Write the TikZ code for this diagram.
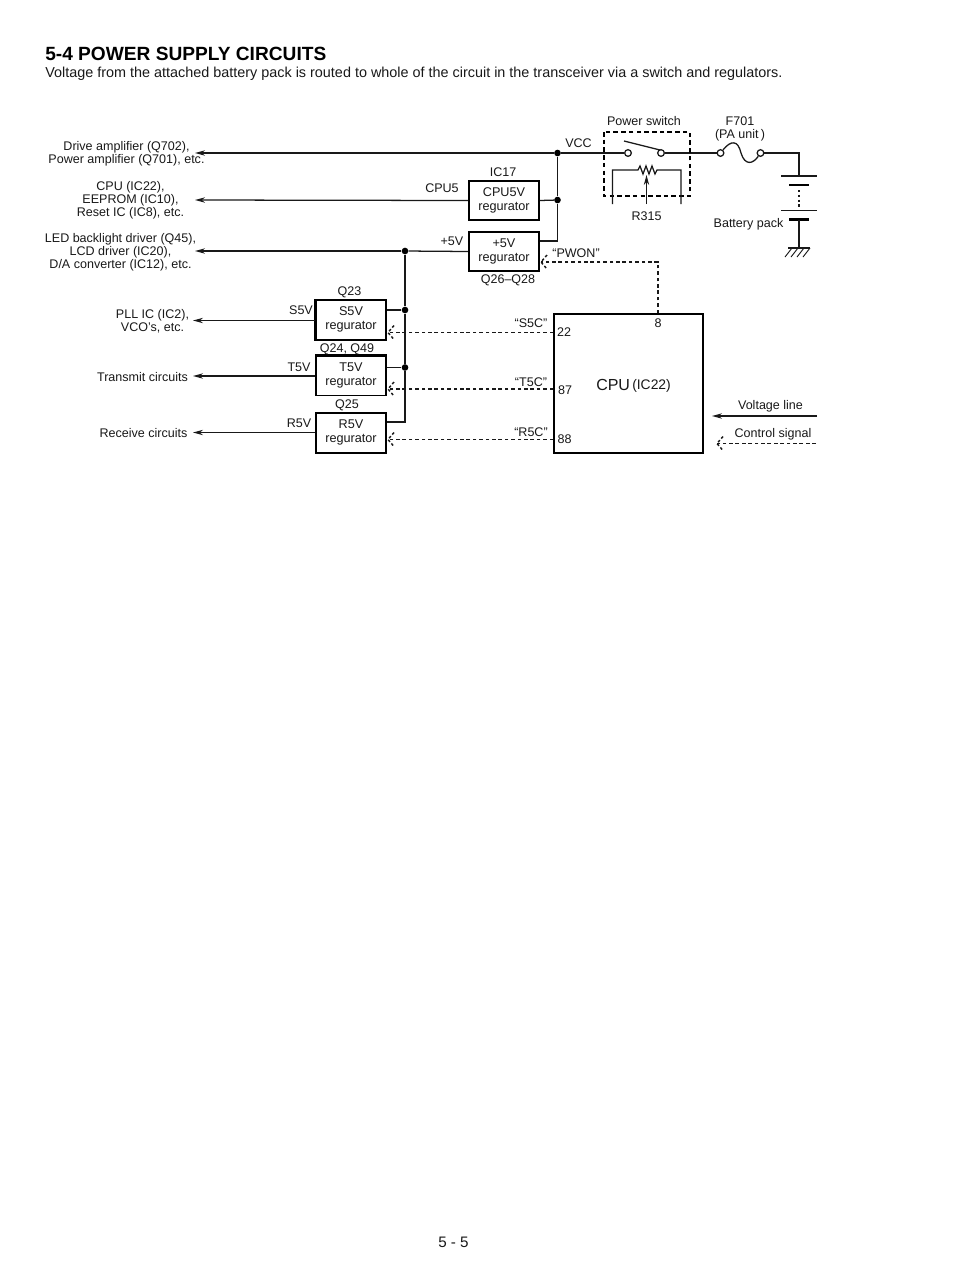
\documentclass[tikz,border=0pt]{standalone}
\usepackage{fontspec}
\setmainfont{Liberation Sans}
\usetikzlibrary{arrows.meta,calc}
\tikzset{
  wire/.style={line width=0.95pt,draw=black!90},
  feed/.style={wire,-{Stealth[length=7.5pt,width=4pt]}},
  ctl/.style={line width=1.2pt,draw=black!90,dash pattern=on 2.8pt off 2pt},
  lbl/.style={font=\fontsize{9.4}{9.7}\selectfont,align=center,inner sep=0pt,text=black!90},
  reg/.style={draw=black,line width=1pt,minimum width=52.5pt,minimum height=29.5pt,inner sep=0pt,
    font=\fontsize{9.5}{11}\selectfont,align=center,text=black!90},
  jdot/.style={circle,fill=black,inner sep=0pt,minimum size=5pt},
  term/.style={circle,draw=black!90,line width=0.95pt,fill=white,inner sep=0pt,minimum size=5pt},
  plate/.style={line width=0.95pt,draw=black!90},
  tplate/.style={line width=2.2pt,draw=black}
}
\newcommand{\chev}[1]{%
  \draw[line width=1.1pt,draw=black!90,dash pattern=on 2pt off 1.6pt] ($(#1)+(6,-7)$) -- (#1) -- ($(#1)+(6,7)$);}
\begin{document}
\begin{tikzpicture}[x=0.75pt,y=-0.75pt]
\useasboundingbox (0,0) rectangle (954,1272);
\fill[white] (0,0) rectangle (954,1272);
% heading
\node[anchor=base west,inner sep=0pt,font=\fontsize{14.35}{16}\selectfont\bfseries] (title) at (45,60) {5-4 POWER SUPPLY CIRCUITS};
\node[anchor=base west,inner sep=0pt,font=\fontsize{10.8}{12}\selectfont,text=black!90] (intro) at (45,77.5) {Voltage from the attached battery pack is routed to whole of the circuit in the transceiver via a switch and regulators.};
\node[lbl,font=\fontsize{11.4}{12}\selectfont] (page) at (453.5,1242.5) {5 - 5};
% regulators
\node[reg,line width=1.3pt] (rcpu) at (504,200.5) {CPU5V\\regurator};
\node[reg,line width=1.6pt] (r5v) at (504,251.5) {+5V\\regurator};
\node[reg] (rs) at (351,319.5) {S5V\\regurator};
\node[reg] (rt) at (351,375.5) {T5V\\regurator};
\node[reg] (rr) at (351,432.5) {R5V\\regurator};
\draw[line width=1.5pt] (rs.north west) -- (rs.south west) -- (rs.south east);
\draw[line width=1.5pt] (rt.north west) -- (rt.north east);
\draw[line width=1.5pt] (rr.south west) -- (rr.south east);
% CPU
\node[draw=black,line width=1.1pt,minimum width=111.75pt,minimum height=104.25pt,inner sep=0pt] (cpu) at (628.5,383.5) {};
\node[anchor=base west,inner sep=0pt,font=\fontsize{12}{12}\selectfont,text=black!90] (cpul) at (596,390) {CPU};
\node[lbl,anchor=base west,font=\fontsize{10.4}{12}\selectfont] (ic22) at (632,389) {(IC22)};
\node[lbl] (p8) at (658,323.5) {8};
\node[lbl] (p22) at (564,332.5) {22};
\node[lbl] (p87) at (565,390) {87};
\node[lbl] (p88) at (564.5,439) {88};
% coordinates of free ends and junctions
\coordinate (loadA) at (195,153);
\coordinate (loadB) at (195,200);
\coordinate (loadC) at (195,251);
\coordinate (loadD) at (193,320.5);
\coordinate (loadE) at (193,376);
\coordinate (loadF) at (193,432.5);
\node[jdot] (jv) at (557.5,153) {};
\node[jdot] (jc) at (557.5,200) {};
\node[jdot] (j5) at (405,251) {};
\node[jdot] (js) at (405,310) {};
\node[jdot] (jt) at (405,367.5) {};
\coordinate (jr) at (405,422);
\coordinate (r5in) at (557.5,241);
% switch and fuse
\node[term] (sa) at (628,153) {};
\node[term] (sb) at (661,153) {};
\node[term] (fa) at (720.5,153) {};
\node[term] (fb) at (760.5,153) {};
\coordinate (armend) at (624,141);
\coordinate (armtip) at (660,150);
% battery
\coordinate (bcorner) at (799,153);
\coordinate (bt1) at (799,176);
\coordinate (bb2) at (799,248);
% main wires
\draw[feed] (jv) -- (loadA);
\draw[wire] (sa) -- (jv);
\draw[wire] (sb) -- (fa);
\draw[wire] (armend) -- (armtip);
\draw[wire] (fa) .. controls (731,140) and (738,140) .. (741,153) .. controls (745,166) and (753,164) .. (fb);
\draw[wire] (fb) -- (bcorner) -- (bt1);
\draw[wire] (jv) -- (jc);
\draw[wire] (jc) -- (r5in) -- (r5v.east |- r5in);
\draw[wire] (rcpu.east) -- (jc);
\draw[feed] (rcpu.west) -- (loadB);
\draw[feed] (j5) -- (loadC);
\draw[wire] (r5v.west) -- (j5);
\draw[wire] (j5) -- (js) -- (jt);
\draw[wire] (jt) -- (jr) -- (rr.east |- jr);
\draw[wire,line width=1.4pt] (rs.east |- js) -- (js);
\draw[wire] (rt.east |- jt) -- (jt);
\draw[feed] (rs.west |- loadD) -- (loadD);
\draw[feed] (rt.west |- loadE) -- (loadE);
\draw[feed] (rr.west |- loadF) -- (loadF);
% control signals
\coordinate (tipP) at (541,262);
\coordinate (tipS) at (388,332.5);
\coordinate (tipT) at (388,389);
\coordinate (tipR) at (388,439.5);
\coordinate (pcorner) at (658,262);
\draw[ctl] (cpu.north -| pcorner) -- (pcorner) -- (tipP);
\draw[ctl,line width=0.8pt] (cpu.west |- tipS) -- (tipS);
\draw[ctl] (cpu.west |- tipT) -- (tipT);
\draw[ctl] (cpu.west |- tipR) -- (tipR);
\chev{tipP}\chev{tipS}\chev{tipT}\chev{tipR}
% power switch box and R315
\draw[line width=1.1pt,dash pattern=on 3.4pt off 2.4pt] (604,132) rectangle (690,196);
\coordinate (rl) at (612.5,204);
\coordinate (rr2) at (681,204);
\draw[wire] (rl) -- (612.5,170) -- (638,170) -- (640,166) -- (643,174) -- (646,166) -- (649,174) -- (652,166) -- (655,174) -- (657,170) -- (681,170) -- (rr2);
\coordinate (wipS) at (646.5,204);
\coordinate (wipE) at (646.5,175);
\draw[feed] (wipS) -- (wipE);
% battery cells
\draw[plate] (781,176) -- (817,176);
\draw[tplate] (789,185) -- (809,185);
\draw[wire,dash pattern=on 1.6pt off 2pt] (799,190) -- (799,208);
\draw[plate] (781,210.5) -- (817,210.5);
\draw[tplate] (789,219.5) -- (809,219.5);
\draw[wire] (799,220) -- (bb2);
\draw[plate,line width=1.1pt] (788,248) -- (810,248);
\foreach \x in {792,798,804,810}{\draw[line width=0.7pt,draw=black!90] (\x,248) -- ({\x-7},257);}
% legend
\coordinate (lva) at (817,416);
\coordinate (lvb) at (712,416);
\coordinate (lca) at (816,443.5);
\coordinate (lcb) at (717,443.5);
\draw[feed] (lva) -- (lvb);
\draw[ctl,line width=0.8pt] (lca) -- (lcb);
\chev{lcb}
\node[lbl] (tvl) at (770.5,406.5) {Voltage line};
\node[lbl] (tcs) at (773,434.5) {Control signal};
% load labels
\node[lbl,anchor=center] (d1) at (126.5,153.5) {Drive amplifier (Q702),\\Power amplifier (Q701), etc.};
\node[lbl] (d2) at (130.5,200.5) {CPU (IC22),\\EEPROM (IC10),\\Reset IC (IC8), etc.};
\node[lbl] (d3) at (120.5,252) {LED backlight driver (Q45),\\LCD driver (IC20),\\D/A converter (IC12), etc.};
\node[lbl] (d4) at (152.5,321.5) {PLL IC (IC2),\\VCO’s, etc.};
\node[lbl] (d5) at (142.5,377) {Transmit circuits};
\node[lbl] (d6) at (143.5,433) {Receive circuits};
% wire labels
\node[lbl] (tvcc) at (578.5,143) {VCC};
\node[lbl] (tcpu5) at (442,188.5) {CPU5};
\node[lbl] (t5) at (452,241) {+5V};
\node[lbl] (ts) at (301,310.5) {S5V};
\node[lbl] (tt) at (299,367.5) {T5V};
\node[lbl] (tr) at (299,423.5) {R5V};
% part labels
\node[lbl] (ic17) at (503,172.5) {IC17};
\node[lbl] (q26) at (508,280) {Q26–Q28};
\node[lbl] (q23) at (349.5,292) {Q23};
\node[lbl] (q24) at (347,349) {Q24, Q49};
\node[lbl] (q25) at (347,405) {Q25};
\node[lbl] (pwon) at (576,253) {“PWON”};
\node[lbl] (s5c) at (531,323) {“S5C”};
\node[lbl] (t5c) at (531,382) {“T5C”};
\node[lbl] (r5c) at (531,432) {“R5C”};
\node[lbl] (psw) at (644,121) {Power switch};
\node[lbl] (f701) at (740,128.5) {F701\\(PA unit\,)};
\node[lbl] (r315) at (646.5,216) {R315};
\node[lbl] (bat) at (748.5,224.5) {Battery pack};
\end{tikzpicture}
\end{document}
